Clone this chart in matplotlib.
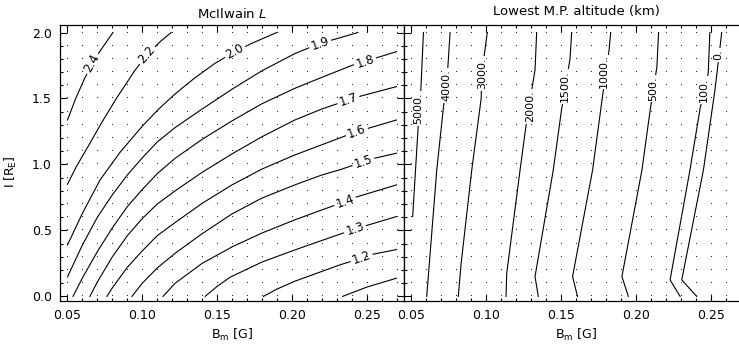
import numpy as np
import matplotlib
matplotlib.use("Agg")
import matplotlib.pyplot as plt
from matplotlib.ticker import MultipleLocator

# computation grid (Bm in G, I in Earth radii)
bm_grid = [0.05, 0.06, 0.07, 0.08, 0.09, 0.10, 0.11, 0.12, 0.13, 0.14, 0.15, 0.16,
           0.17, 0.18, 0.19, 0.20, 0.21, 0.22, 0.23, 0.24, 0.25, 0.26, 0.27]
i_grid = [0.0, 0.1, 0.2, 0.3, 0.4, 0.5, 0.6, 0.7, 0.8, 0.9, 1.0, 1.1, 1.2, 1.3,
          1.4, 1.5, 1.6, 1.7, 1.8, 1.9, 2.0]

# McIlwain L contours: (Bm, I) vertices
l_levels = ["2.4", "2.2", "2.0", "1.9", "1.8", "1.7", "1.6", "1.5", "1.4", "1.3", "1.2", "1.1"]
l_bm = [
    [0.050, 0.0555, 0.0615, 0.0665, 0.0715, 0.0804],
    [0.050, 0.0559, 0.0637, 0.0726, 0.0827, 0.0949, 0.103, 0.1119, 0.1193],
    [0.050, 0.060, 0.0718, 0.085, 0.100, 0.111, 0.1219, 0.135, 0.1487, 0.162, 0.1732, 0.1899],
    [0.050, 0.060, 0.070, 0.080, 0.090, 0.100, 0.110, 0.122, 0.140, 0.160, 0.180,
     0.202, 0.2188, 0.2275, 0.2442],
    [0.0537, 0.060, 0.070, 0.080, 0.090, 0.100, 0.110, 0.122, 0.140, 0.160, 0.180,
     0.202, 0.220, 0.240, 0.270],
    [0.065, 0.070, 0.080, 0.090, 0.100, 0.110, 0.122, 0.140, 0.160, 0.180, 0.202,
     0.220, 0.2378, 0.2467, 0.270],
    [0.0764, 0.080, 0.090, 0.100, 0.110, 0.122, 0.140, 0.160, 0.180, 0.202, 0.2256,
     0.2434, 0.2511, 0.270],
    [0.0931, 0.100, 0.110, 0.122, 0.140, 0.160, 0.180, 0.202, 0.220, 0.2322, 0.2478,
     0.2544, 0.270],
    [0.1139, 0.122, 0.140, 0.160, 0.180, 0.202, 0.220, 0.2356, 0.2422, 0.270],
    [0.142, 0.150, 0.1587, 0.180, 0.202, 0.2267, 0.2422, 0.2478, 0.270],
    [0.181, 0.190, 0.202, 0.2322, 0.2467, 0.2522, 0.270],
    [0.234, 0.250, 0.270],
]
l_i = [
    [1.337, 1.50, 1.653, 1.76, 1.855, 2.0],
    [0.85, 0.983, 1.135, 1.312, 1.50, 1.71, 1.83, 1.93, 2.0],
    [0.39, 0.63, 0.883, 1.09, 1.29, 1.42, 1.534, 1.655, 1.767, 1.855, 1.918, 2.0],
    [0.148, 0.39, 0.60, 0.77, 0.92, 1.05, 1.17, 1.28, 1.42, 1.57, 1.71,
     1.84, 1.918, 1.945, 2.0],
    [0.0, 0.14, 0.34, 0.52, 0.68, 0.81, 0.93, 1.047, 1.19, 1.33, 1.46,
     1.577, 1.66, 1.75, 1.855],
    [0.0, 0.11, 0.30, 0.46, 0.59, 0.70, 0.80, 0.94, 1.08, 1.21, 1.337,
     1.42, 1.489, 1.52, 1.59],
    [0.0, 0.065, 0.22, 0.345, 0.46, 0.56, 0.705, 0.845, 0.965, 1.072, 1.173,
     1.249, 1.274, 1.337],
    [0.0, 0.10, 0.215, 0.327, 0.475, 0.625, 0.745, 0.845, 0.92, 0.96, 1.02,
     1.045, 1.085],
    [0.0, 0.10, 0.25, 0.375, 0.48, 0.58, 0.655, 0.718, 0.75, 0.845],
    [0.0, 0.075, 0.145, 0.26, 0.352, 0.45, 0.51, 0.53, 0.605],
    [0.0, 0.055, 0.115, 0.239, 0.29, 0.315, 0.355],
    [0.0, 0.07, 0.138],
]
l_label_bm = [0.0662, 0.103, 0.162, 0.2188, 0.249, 0.2378, 0.2434, 0.2478, 0.2356, 0.2422, 0.2467, None]
l_label_i = [1.767, 1.83, 1.855, 1.918, 1.78, 1.489, 1.249, 1.02, 0.718, 0.51, 0.29, None]

# lowest mirror point altitude contours (km)
alt_levels = ["5000.", "4000.", "3000.", "2000.", "1500.", "1000.", "500.", "100.", "0."]
alt_bm = [
    [0.0508, 0.0546, 0.0562, 0.0580],
    [0.0602, 0.0669, 0.0713, 0.0742, 0.0758],
    [0.0813, 0.0832, 0.0903, 0.0966, 0.0970, 0.1007],
    [0.1132, 0.1137, 0.1226, 0.1271, 0.1326, 0.1337],
    [0.1348, 0.1326, 0.1448, 0.1503, 0.156, 0.1571],
    [0.161, 0.1577, 0.1711, 0.1777, 0.1821, 0.1832],
    [0.195, 0.1907, 0.2041, 0.2096, 0.2141, 0.2152],
    [0.2296, 0.2229, 0.2362, 0.243, 0.2484, 0.2495],
    [0.2407, 0.2307, 0.2452, 0.2529, 0.2563, 0.2574],
]
alt_i = [
    [0.605, 1.31, 1.55, 2.0],
    [0.0, 0.958, 1.426, 1.716, 2.0],
    [0.0, 0.25, 0.958, 1.50, 1.69, 2.0],
    [0.0, 0.176, 0.958, 1.337, 1.716, 2.0],
    [0.0, 0.15, 0.958, 1.413, 1.80, 2.0],
    [0.0, 0.15, 0.958, 1.514, 1.867, 2.0],
    [0.0, 0.15, 0.958, 1.413, 1.74, 2.0],
    [0.0, 0.125, 0.958, 1.426, 1.69, 2.0],
    [0.0, 0.125, 0.958, 1.564, 1.89, 2.0],
]
alt_label_bm = [0.0546, 0.0735, 0.0970, 0.1293, 0.1526, 0.1788, 0.2118, 0.2452, 0.2551]
alt_label_i = [1.425, 1.60, 1.69, 1.44, 1.59, 1.703, 1.577, 1.564, 1.83]

W, H = 739, 348
fig = plt.figure(figsize=(W / 100, H / 100), dpi=100)
fig.patch.set_facecolor("white")
ax1 = fig.add_axes([60 / W, 1 - 301 / H, 344 / W, 276 / H])
ax2 = fig.add_axes([404 / W, 1 - 301 / H, 344 / W, 276 / H])

gx, gy = np.meshgrid(bm_grid, i_grid)


def label_angle(ax, xs, ys, lx, ly):
    # direction of the curve next to the label, in screen space
    pts = ax.transData.transform(np.column_stack([xs, ys]))
    p = ax.transData.transform((lx, ly))
    d = np.hypot(pts[:, 0] - p[0], pts[:, 1] - p[1])
    k = int(np.argmin(d))
    if k == len(xs) - 1:
        a, b = k - 1, k
    elif k == 0:
        a, b = 0, 1
    else:
        a, b = k - 1, k + 1
    dx, dy = pts[b] - pts[a]
    return np.degrees(np.arctan2(dy, dx))


for ax in (ax1, ax2):
    ax.set_xlim(0.045, 0.275)
    ax.set_ylim(-0.035, 2.057)
    ax.plot(gx.ravel(), gy.ravel(), ",", color="0.15", zorder=4)
    ax.xaxis.set_major_locator(MultipleLocator(0.05))
    ax.xaxis.set_minor_locator(MultipleLocator(0.01))
    ax.yaxis.set_major_locator(MultipleLocator(0.5))
    ax.yaxis.set_minor_locator(MultipleLocator(0.1))
    ax.tick_params(which="both", direction="in", top=True, right=True, width=0.8,
                   labelsize=9, pad=6)
    ax.tick_params(which="major", length=5)
    ax.tick_params(which="minor", length=2.5)
    ax.xaxis.set_major_formatter(plt.FuncFormatter(lambda v, p: f"{v:.2f}"))
    for s in ax.spines.values():
        s.set_linewidth(0.9)
    ax.set_xlabel("B$_\\mathrm{m}$ [G]", fontsize=9, labelpad=3)

ax1.yaxis.set_major_formatter(plt.FuncFormatter(lambda v, p: f"{v:.1f}"))
ax2.tick_params(labelleft=False)
ax1.set_ylabel("I [R$_\\mathrm{E}$]", fontsize=9)
ax1.yaxis.set_label_coords(-0.118, 0.47)

fig.canvas.draw()

for lev, xs, ys, lx, ly in zip(l_levels, l_bm, l_i, l_label_bm, l_label_i):
    ax1.plot(xs, ys, color="black", lw=0.8, zorder=2)
    if lx is not None:
        ang = label_angle(ax1, xs, ys, lx, ly)
        ax1.text(lx, ly, lev, fontsize=8.5, rotation=ang, rotation_mode="anchor",
                 ha="center", va="center", zorder=3,
                 bbox=dict(facecolor="white", edgecolor="none", pad=1.5))

for lev, xs, ys, lx, ly in zip(alt_levels, alt_bm, alt_i, alt_label_bm, alt_label_i):
    ax2.plot(xs, ys, color="black", lw=0.8, zorder=2)
    ax2.text(lx, ly, lev, fontsize=8, rotation=90, rotation_mode="anchor",
             ha="center", va="center", zorder=3,
             bbox=dict(facecolor="white", edgecolor="none", pad=1.0))

ax1.set_title("McIlwain $\\mathit{L}$", fontsize=9.5, pad=5)
ax2.text(576 / W, 1 - 12 / H, "Lowest M.P. altitude (km)", transform=fig.transFigure,
         fontsize=9.5, ha="center", va="center")

fig.savefig("out.png", dpi=100)
